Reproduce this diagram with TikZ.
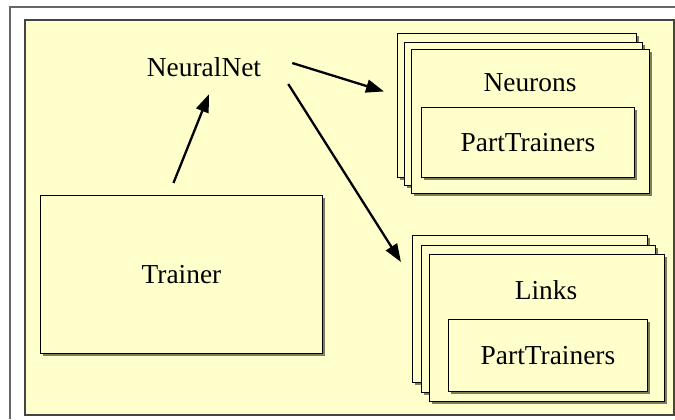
\documentclass[tikz,border=0pt]{standalone}
\usepackage{fontspec}
\setmainfont{Liberation Serif}
\usetikzlibrary{arrows.meta, shadows}
\definecolor{paper}{HTML}{FFFFCC}
\definecolor{shade}{HTML}{7E7E5E}
\definecolor{frame}{HTML}{666666}
\definecolor{edge}{HTML}{444444}
\tikzset{
  lbl/.style={font=\fontsize{27.5}{30}\selectfont, text=black, inner sep=0pt},
  box/.style={draw=black, fill=paper, line width=0.9bp, inner sep=0pt, anchor=north west,
    drop shadow={shadow xshift=3bp, shadow yshift=-3bp, fill=shade, opacity=1},
    font=\fontsize{27.5}{30}\selectfont},
  arr/.style={line width=2.3bp, -{Triangle[length=18bp,width=13bp]}},
}
\begin{document}
\begin{tikzpicture}[x=1bp, y=-1bp]
  \useasboundingbox (0,0) rectangle (675,419);
  \fill[white] (0,0) rectangle (675,419);
  % window frame
  \draw[frame, line width=2bp] (10,419) -- (10,7) -- (675,7);
  % panel
  \draw[fill=paper, draw=edge, line width=1.6bp] (25,20) rectangle (674,415);

  % Trainer
  \node[box, minimum width=282bp, minimum height=158bp] (trainer) at (40,195) {Trainer};

  % Neurons stack
  \node[box, minimum width=239bp, minimum height=144bp] (nb) at (397,33) {};
  \node[box, minimum width=238bp, minimum height=143bp] (nm) at (404,42) {};
  \node[box, minimum width=238bp, minimum height=144bp] (nf) at (411,49) {};
  \node[lbl] (neurons) at (530,83) {Neurons};
  \node[box, minimum width=213bp, minimum height=70bp] (npt) at (421,107) {PartTrainers};

  % Links stack
  \node[box, minimum width=235bp, minimum height=147bp] (lb) at (412,235) {};
  \node[box, minimum width=234bp, minimum height=147bp] (lm) at (421,245) {};
  \node[box, minimum width=235bp, minimum height=147bp] (lf) at (429,254) {};
  \node[lbl] (links) at (546,290) {Links};
  \node[box, minimum width=199bp, minimum height=72bp] (lpt) at (448,319) {PartTrainers};

  % NeuralNet label
  \node[lbl, minimum width=112bp, minimum height=24bp] (nnet) at (204,67) {NeuralNet};

  % connectors
  \draw[arr] ([xshift=-8bp, yshift=12bp]trainer.north) -- ([xshift=5bp, yshift=-15bp]nnet.south);
  \draw[arr] ([xshift=31bp, yshift=4bp]nnet.east) -- ([xshift=-13bp, yshift=14bp]nb.west);
  \draw[arr] ([xshift=27bp, yshift=-17bp]nnet.east) -- ([xshift=-11bp, yshift=-27bp]lb.north west);
\end{tikzpicture}
\end{document}
